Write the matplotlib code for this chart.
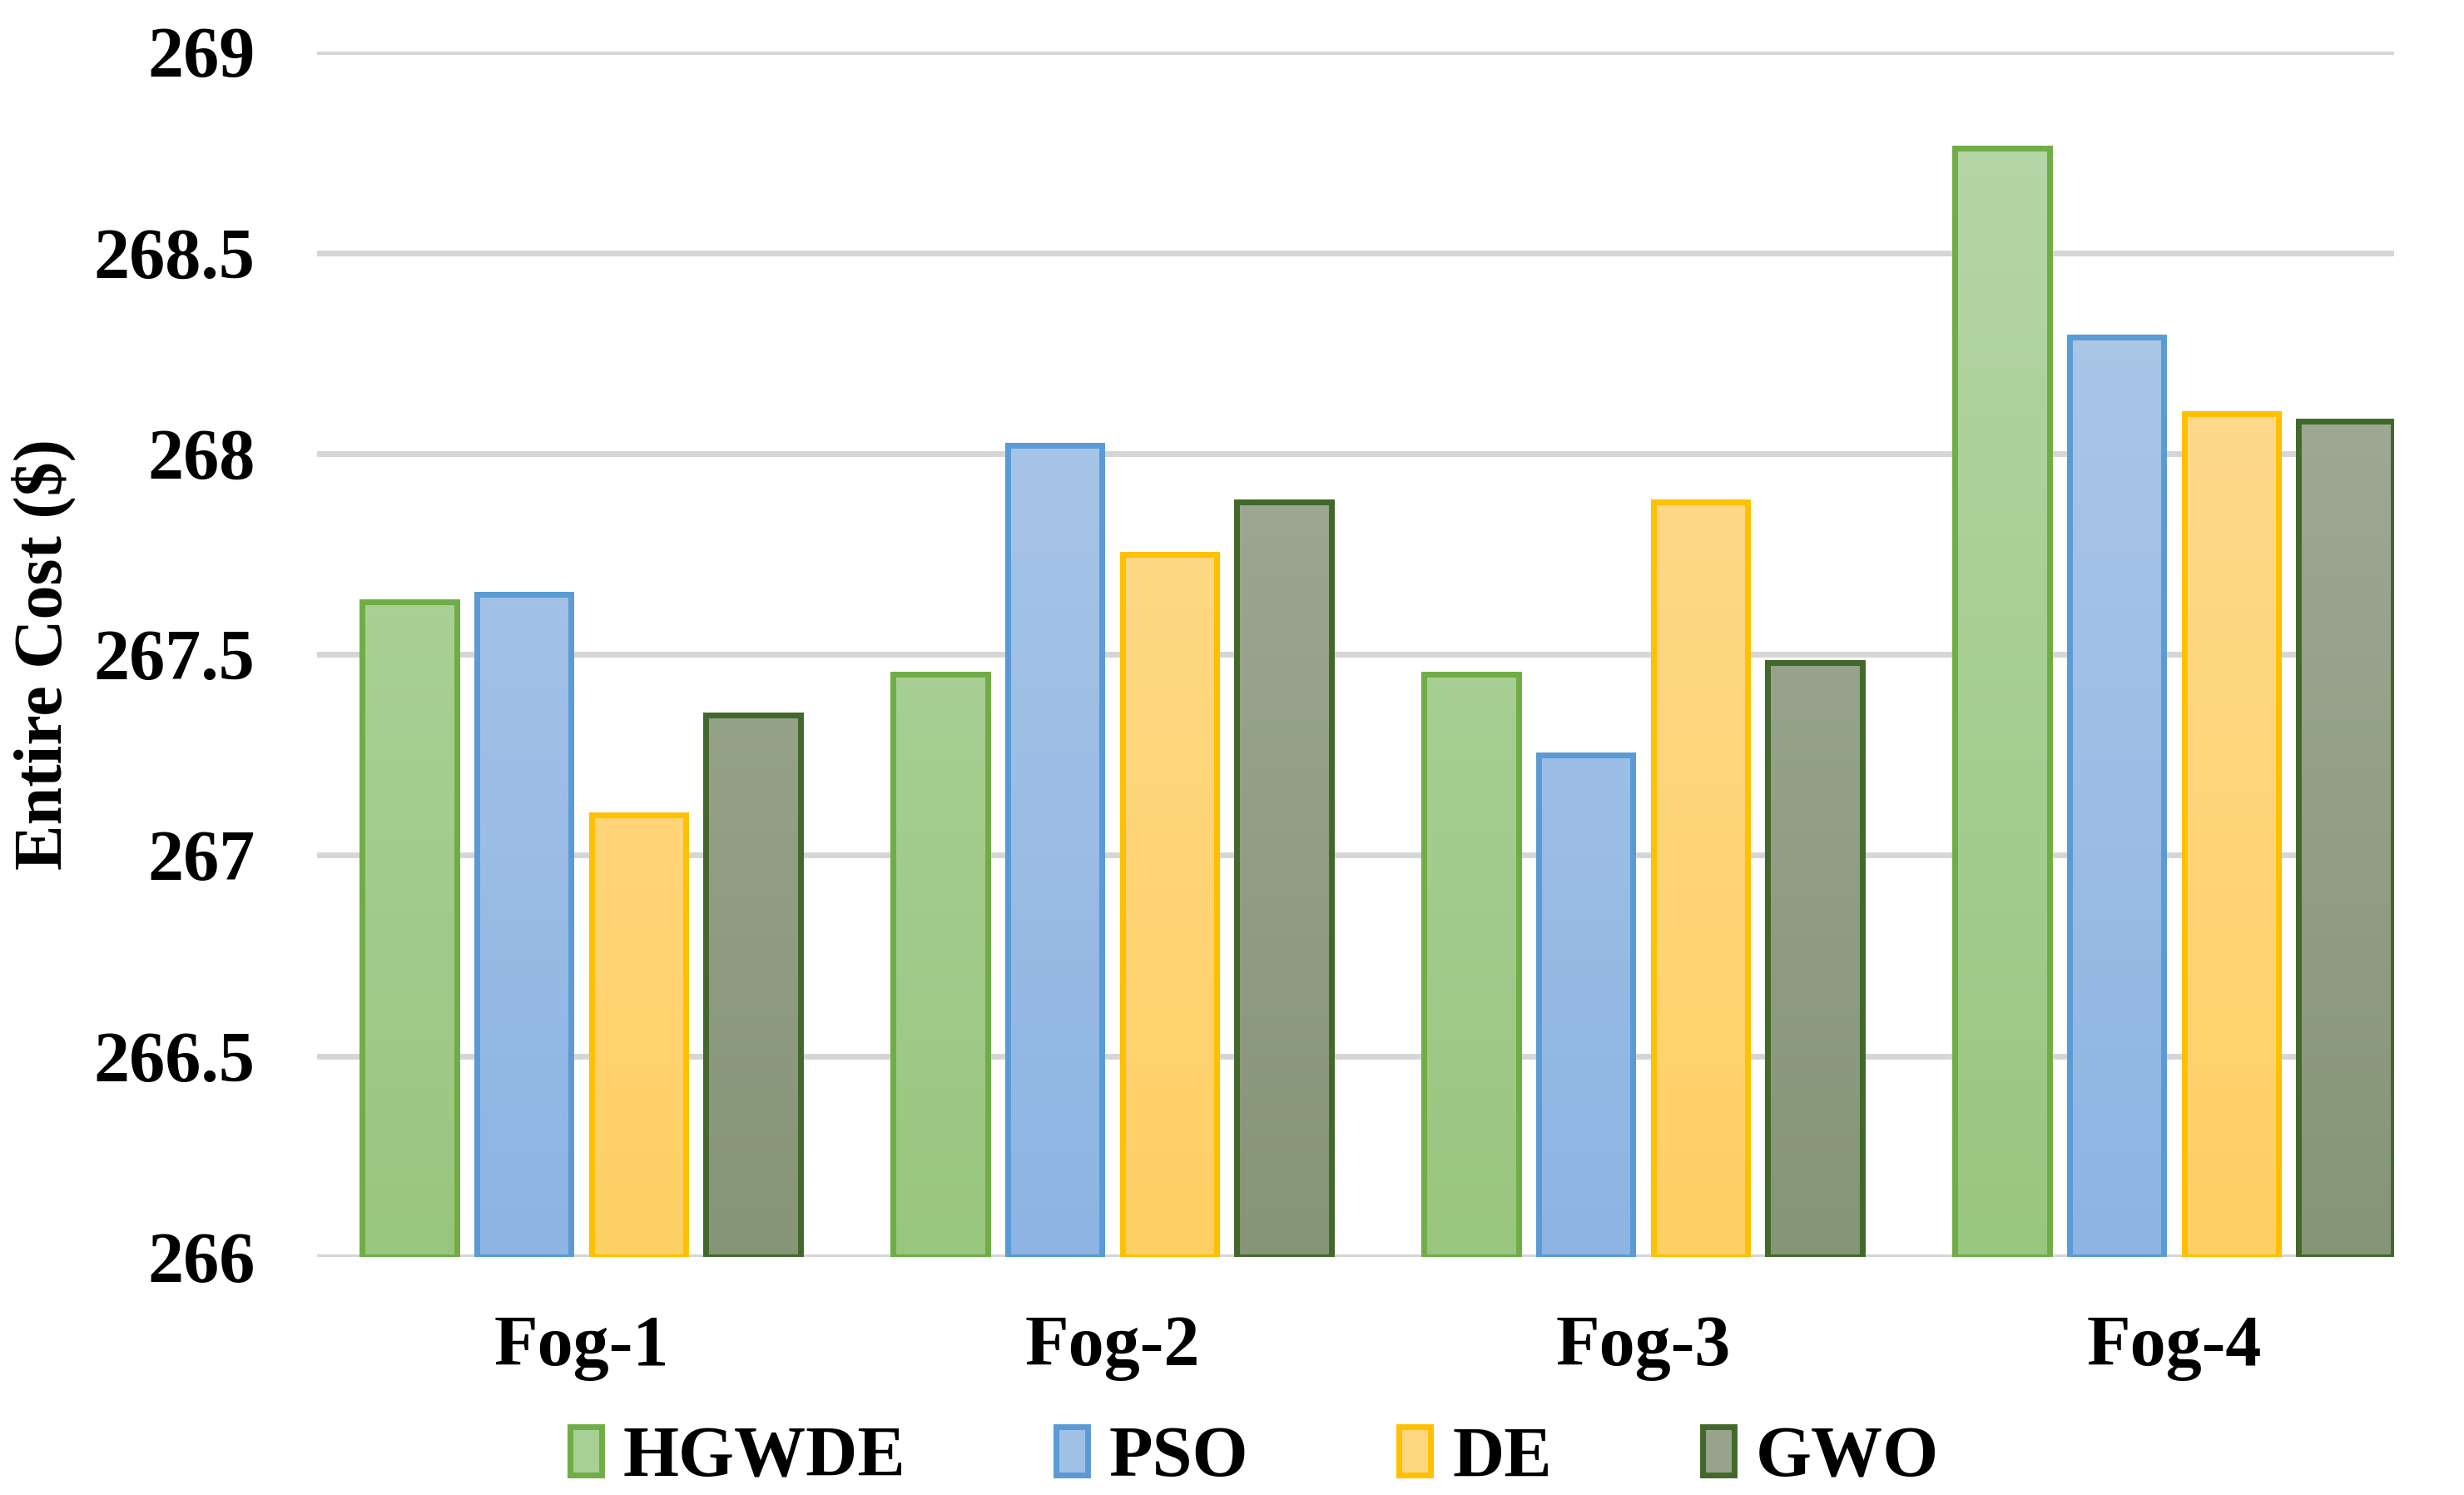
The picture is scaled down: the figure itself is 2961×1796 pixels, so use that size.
import numpy as np
import matplotlib
matplotlib.use("Agg")
import matplotlib.pyplot as plt
from matplotlib.colors import LinearSegmentedColormap

categories = ["Fog-1", "Fog-2", "Fog-3", "Fog-4"]
series_names = ["HGWDE", "PSO", "DE", "GWO"]
hgwde = [267.63, 267.45, 267.45, 268.76]
pso = [267.65, 268.02, 267.25, 268.29]
de = [267.10, 267.75, 267.88, 268.10]
gwo = [267.35, 267.88, 267.48, 268.08]
y_ticks = [266, 266.5, 267, 267.5, 268, 268.5, 269]
y_tick_labels = ["266", "266.5", "267", "267.5", "268", "268.5", "269"]

edge_colors = ["#70ad47", "#5b9bd5", "#ffc000", "#43682b"]
top_colors = ["#b7d7a9", "#b2cce9", "#fedd9c", "#a8b2a1"]
bottom_colors = ["#99c67f", "#8eb4e3", "#ffd064", "#869477"]

plt.rcParams["font.family"] = ["Liberation Serif", "DejaVu Serif"]
plt.rcParams["font.weight"] = "bold"

fig = plt.figure(figsize=(29.61, 17.96), dpi=100)
ax = fig.add_axes([0.1288, 0.1592, 0.8429, 0.8061])

x = np.arange(len(categories))
width = 0.178
step = 0.216
series = [hgwde, pso, de, gwo]
ymin = 266

for i, (name, vals) in enumerate(zip(series_names, series)):
    offs = (i - 1.5) * step
    cmap = LinearSegmentedColormap.from_list(name, [bottom_colors[i], top_colors[i]])
    mid = cmap(0.5)
    bars = ax.bar(x + offs, np.array(vals) - ymin, width, bottom=ymin,
                  color=mid, edgecolor=edge_colors[i], linewidth=5,
                  label=name, zorder=3)
    for b in bars:
        x0, y0 = b.get_x(), b.get_y()
        w, h = b.get_width(), b.get_height()
        # gradient relative to full axis height so colours match across bars
        top_frac = (y0 + h - ymin) / 3.0
        g = np.linspace(0, top_frac, 256).reshape(-1, 1)
        im = ax.imshow(g, cmap=cmap, vmin=0, vmax=1, origin="lower",
                       extent=[x0, x0 + w, y0, y0 + h], aspect="auto", zorder=3.5)
        im.set_clip_path(b)
        edge = plt.Rectangle((x0, y0), w, h, fill=False,
                             edgecolor=edge_colors[i], linewidth=5, zorder=4)
        ax.add_patch(edge)

ax.set_xlim(-0.497, 3.415)
ax.set_ylim(266, 269)
ax.set_yticks(y_ticks)
ax.set_yticklabels(y_tick_labels)
ax.set_xticks(x)
ax.set_xticklabels(categories)
ax.tick_params(axis="both", length=0, labelsize=62)
ax.tick_params(axis="y", pad=54)
ax.tick_params(axis="x", pad=50)
for s in ax.spines.values():
    s.set_visible(False)
ax.grid(axis="y", color="#d6d6d6", linewidth=5, zorder=0)
ax.set_axisbelow(True)

ax.set_ylabel("Entire Cost ($)", fontsize=59, fontweight="bold")
ax.yaxis.set_label_coords(-0.116, 0.5)

fig.legend(loc="center", bbox_to_anchor=(0.509, 0.024), ncol=4, frameon=False,
           fontsize=62, handlelength=0.44, handleheight=0.67,
           handletextpad=0.3, columnspacing=2.1)

fig.savefig("out.png", dpi=100)
